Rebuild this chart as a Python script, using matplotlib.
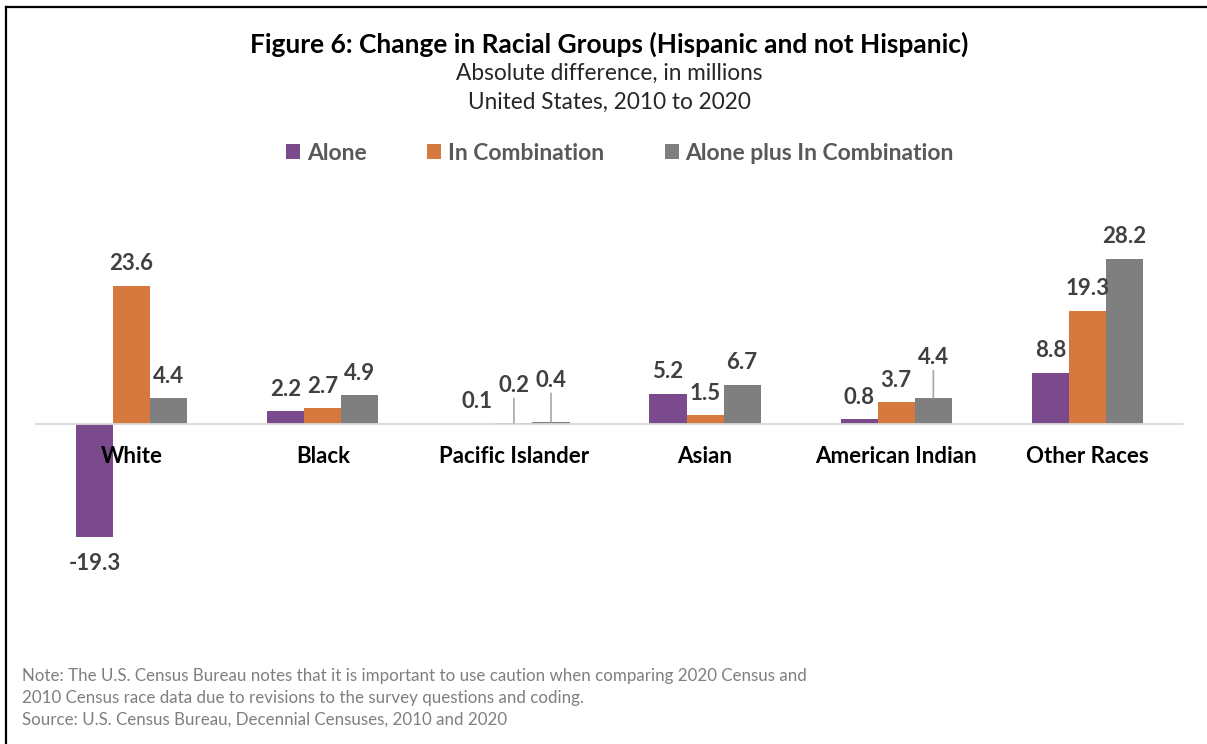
import numpy as np
import matplotlib.pyplot as plt
from matplotlib.patches import Patch
from matplotlib.lines import Line2D

plt.rcParams['font.family'] = ['Lato', 'DejaVu Sans']

categories = ["White", "Black", "Pacific Islander", "Asian", "American Indian", "Other Races"]
series_names = ["Alone", "In Combination", "Alone plus In Combination"]
alone = [-19.3, 2.2, 0.1, 5.2, 0.8, 8.8]
in_combination = [23.6, 2.7, 0.2, 1.5, 3.7, 19.3]
alone_plus = [4.4, 4.9, 0.4, 6.7, 4.4, 28.2]

colors = ["#7b4a8d", "#d5793f", "#7f7f7f"]
label_color = "#404040"

# labels that sit higher and get a leader line: (category index, series index) -> offset in points
lifted = {(2, 1): 27, (2, 2): 30, (4, 2): 29.5}

fig = plt.figure(figsize=(12.07, 7.44), dpi=100)
W, H = 1207, 744
ax = fig.add_axes([36 / W, 104 / H, (1183 - 36) / W, 440 / H])

x = np.arange(len(categories))
width = 0.194
series = [alone, in_combination, alone_plus]
for s, (vals, col) in enumerate(zip(series, colors)):
    pos = x + (s - 1) * width
    ax.bar(pos, vals, width=width, color=col, zorder=1)
    for i, v in enumerate(vals):
        if (i, s) in lifted:
            ax.annotate(f"{v:.1f}", xy=(pos[i], v), xytext=(0, lifted[(i, s)]),
                        textcoords="offset points", ha="center", va="center",
                        fontsize=16, fontweight="bold", color=label_color,
                        arrowprops=dict(arrowstyle="-", color="#a6a6a6", lw=1.2,
                                        shrinkA=0, shrinkB=0))
        else:
            off = 16 if v >= 0 else -19
            ax.annotate(f"{v:.1f}", xy=(pos[i], v), xytext=(0, off),
                        textcoords="offset points", ha="center", va="center",
                        fontsize=16, fontweight="bold", color=label_color)

ax.set_xlim(-0.5, len(categories) - 0.5)
ax.set_ylim(-36.9, 38.3)
for side in ["top", "left", "right"]:
    ax.spines[side].set_visible(False)
ax.spines["bottom"].set_position(("data", 0))
ax.spines["bottom"].set_color("#d9d9d9")
ax.spines["bottom"].set_linewidth(1.3)
ax.set_yticks([])
ax.set_xticks(x)
ax.set_xticklabels(categories, fontsize=16, fontweight="bold", color="black")
ax.tick_params(axis="x", length=0, pad=16)

fig.text(0.505, 1 - 44 / H, "Figure 6: Change in Racial Groups (Hispanic and not Hispanic)",
         ha="center", va="center", fontsize=19, fontweight="bold", color="black")
fig.text(0.505, 1 - 73 / H, "Absolute difference, in millions",
         ha="center", va="center", fontsize=16.3, color="#262626")
fig.text(0.505, 1 - 102 / H, "United States, 2010 to 2020",
         ha="center", va="center", fontsize=16.3, color="#262626")

handles = [Patch(facecolor=c, edgecolor="none") for c in colors]
leg = fig.legend(handles, series_names, loc="center", bbox_to_anchor=(620 / W, 1 - 153 / H),
                 ncol=3, frameon=False, handlelength=0.6, handleheight=0.6,
                 handletextpad=0.3, columnspacing=2.65,
                 prop=dict(size=16.5, weight="bold"))
for t in leg.get_texts():
    t.set_color("#595959")

notes = [
    "Note: The U.S. Census Bureau notes that it is important to use caution when comparing 2020 Census and",
    "2010 Census race data due to revisions to the survey questions and coding.",
    "Source: U.S. Census Bureau, Decennial Censuses, 2010 and 2020",
]
for k, line in enumerate(notes):
    fig.text(22 / W, 1 - (676 + 22 * k) / H, line, ha="left", va="center",
             fontsize=12.2, color="#7f7f7f")

# frame edges on the left and top
fig.add_artist(Line2D([6 / W, 6 / W], [0, 1 - 7 / H], color="black", lw=1.6))
fig.add_artist(Line2D([6 / W, 1], [1 - 7 / H, 1 - 7 / H], color="black", lw=1.6))

fig.savefig("out.png", dpi=100)
